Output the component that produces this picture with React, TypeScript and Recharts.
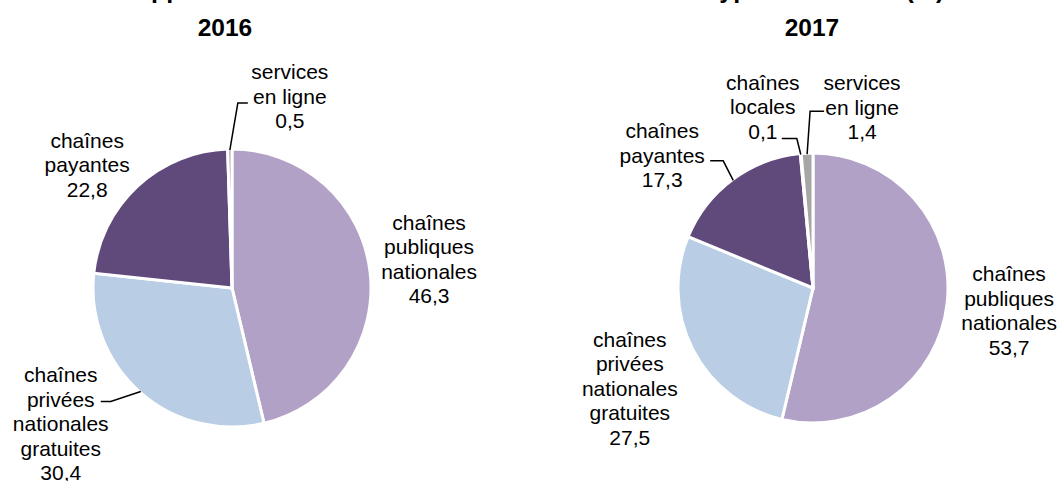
import React from 'react';
import { PieChart, Pie, Cell } from 'recharts';

// ---------- data ----------
const categories2016 = [
  'chaînes publiques nationales',
  'chaînes privées nationales gratuites',
  'chaînes payantes',
  'services en ligne',
];
const values2016 = [46.3, 30.4, 22.8, 0.5];

const categories2017 = [
  'chaînes publiques nationales',
  'chaînes privées nationales gratuites',
  'chaînes payantes',
  'chaînes locales',
  'services en ligne',
];
const values2017 = [53.7, 27.5, 17.3, 0.1, 1.4];

const labelLines: Record<string, string[]> = {
  'chaînes publiques nationales': ['chaînes', 'publiques', 'nationales'],
  'chaînes privées nationales gratuites': ['chaînes', 'privées', 'nationales', 'gratuites'],
  'chaînes payantes': ['chaînes', 'payantes'],
  'chaînes locales': ['chaînes', 'locales'],
  'services en ligne': ['services', 'en ligne'],
};

const yearTitles = ['2016', '2017'];
const mainTitle = 'Apports des diffuseurs dans la création selon le type de chaînes (%)';

// ---------- styles ----------
const colors: Record<string, string> = {
  'chaînes publiques nationales': '#B2A1C7',
  'chaînes privées nationales gratuites': '#B9CDE5',
  'chaînes payantes': '#604A7B',
  'chaînes locales': '#A6A6A6',
  'services en ligne': '#A6A6A6',
};

const FONT = '"Liberation Sans", Arial, sans-serif';
const FS = 21;
const LH = 24.5;

type LabelCfg = { dx: number; dy: number; leader?: [number, number, number, number] };

const labelCfg2016: LabelCfg[] = [
  { dx: 60, dy: -13 },
  { dx: -80, dy: 32, leader: [-30, 10, -40, 10] },
  { dx: -51, dy: -22 },
  { dx: 60, dy: -54, leader: [8, -47, 18, -47] },
];
const labelCfg2017: LabelCfg[] = [
  { dx: 63, dy: 7 },
  { dx: -64, dy: 39 },
  { dx: -71, dy: -25, leader: [-10, -19.5, -23, -19.5] },
  { dx: -38, dy: -48, leader: [-4, -16, -19, -16] },
  { dx: 55, dy: -47, leader: [3, -43, 17, -43] },
];

const toRows = (cats: string[], vals: number[]) =>
  cats.map((c, i) => ({ name: c, value: vals[i] }));

const data2016 = toRows(categories2016, values2016);
const data2017 = toRows(categories2017, values2017);

const RAD = Math.PI / 180;

const makeLabel = (cfg: LabelCfg[]) => (props: any) => {
  const { cx, cy, midAngle, outerRadius, index, payload, value } = props;
  const name = payload?.name ?? props.name;
  const r = outerRadius - 1;
  const ex = cx + r * Math.cos(-midAngle * RAD);
  const ey = cy + r * Math.sin(-midAngle * RAD);
  const c = cfg[index];
  const lx = ex + c.dx;
  const ly = ey + c.dy;
  const lines = [...(labelLines[name] || [name]), Number(value).toFixed(1).replace('.', ',')];
  const n = lines.length;
  return (
    <g key={`lab-${index}`}>
      {c.leader && (
        <polyline
          points={`${ex},${ey} ${ex + c.leader[0]},${ey + c.leader[1]} ${ex + c.leader[2]},${ey + c.leader[3]}`}
          fill="none"
          stroke="#000"
          strokeWidth={1.5}
        />
      )}
      {lines.map((t, i) => (
        <text
          key={i}
          x={lx}
          y={ly + (i - (n - 1) / 2) * LH}
          textAnchor="middle"
          dominantBaseline="central"
          fontFamily={FONT}
          fontSize={FS}
          fill="#000"
        >
          {t}
        </text>
      ))}
    </g>
  );
};

export default function App() {
  return (
    <div style={{ position: 'absolute', left: 0, top: 0, width: 1064, height: 481, background: '#fff' }}>
      <PieChart width={1064} height={481} margin={{ top: 0, right: 0, bottom: 0, left: 0 }}>
        <Pie
          data={data2016}
          dataKey="value"
          nameKey="name"
          cx={232}
          cy={288}
          outerRadius={139}
          startAngle={90}
          endAngle={-270}
          stroke="#fff"
          strokeWidth={3}
          isAnimationActive={false}
          labelLine={false}
          label={makeLabel(labelCfg2016)}
        >
          {data2016.map((d) => (
            <Cell key={d.name} fill={colors[d.name]} />
          ))}
        </Pie>
        <Pie
          data={data2017}
          dataKey="value"
          nameKey="name"
          cx={813}
          cy={288}
          outerRadius={135}
          startAngle={90}
          endAngle={-270}
          stroke="#fff"
          strokeWidth={3}
          isAnimationActive={false}
          labelLine={false}
          label={makeLabel(labelCfg2017)}
        >
          {data2017.map((d) => (
            <Cell key={d.name} fill={colors[d.name]} />
          ))}
        </Pie>
      </PieChart>
      <svg
        width={1064}
        height={481}
        style={{ position: 'absolute', left: 0, top: 0, pointerEvents: 'none' }}
      >
        <text x={133} y={-2} fontFamily={FONT} fontSize={25} fontWeight="bold" fill="#000">
          {mainTitle}
        </text>
        <text x={225} y={36} textAnchor="middle" fontFamily={FONT} fontSize={24.5} fontWeight="bold" fill="#000">
          {yearTitles[0]}
        </text>
        <text x={812} y={36} textAnchor="middle" fontFamily={FONT} fontSize={24.5} fontWeight="bold" fill="#000">
          {yearTitles[1]}
        </text>
      </svg>
    </div>
  );
}
